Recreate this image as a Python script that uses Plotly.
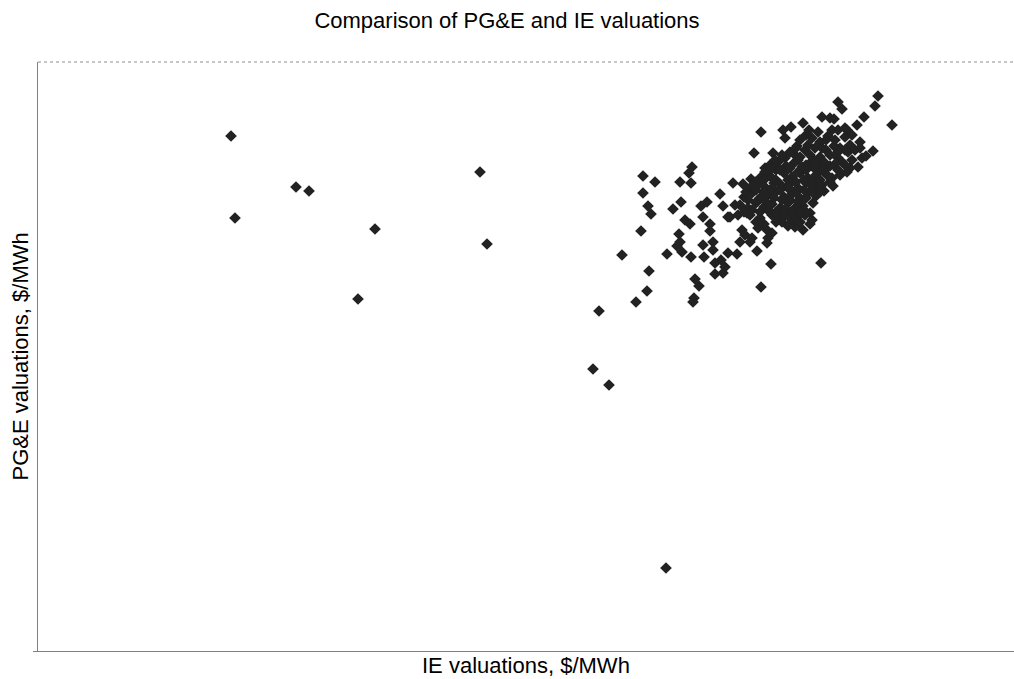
import plotly.graph_objects as go

# IE valuation (x) and PG&E valuation (y) readings, arbitrary $/MWh-like units (no tick labels in original)
ie_outliers = [231, 235, 296, 309, 375, 358, 480, 487, 666]
pge_outliers = [543, 461, 492, 488, 450, 380, 507, 435, 111]

ie_left = [599, 636, 593, 609, 622, 643, 655, 643, 648, 651, 641, 649, 647,
           680, 691, 689, 692, 681, 673, 685, 690, 679, 680, 677, 682, 667, 691, 695, 699, 694, 693]
pge_left = [368, 377, 310, 294, 424, 503, 497, 486, 473, 465, 448, 408, 388,
            497, 496, 506, 512, 477, 470, 459, 455, 445, 437, 433, 427, 425, 422, 400, 393, 381, 377]

ie_mid = [701, 707, 703, 710, 710, 703, 713, 704, 715, 721, 728, 737, 757, 771, 821, 715, 725, 723, 761,
          728, 720, 723, 735, 733, 743, 751, 713,
          730, 738, 747, 742, 745, 752, 740, 750, 758, 767, 768, 767, 772, 772, 780, 782, 792, 795, 790,
          833, 824, 815, 813, 803, 810, 810, 803]
pge_mid = [473, 477, 462, 455, 448, 434, 437, 422, 416, 419, 426, 425, 428, 415, 416, 405, 412, 406, 392,
           462, 485, 473, 474, 496, 495, 500, 429,
           462, 464, 466, 449, 444, 441, 437, 437, 451, 449, 441, 436, 446, 464, 462, 457, 459, 452, 467,
           493, 488, 496, 476, 473, 466, 455, 449]

ie_upper = [761, 783, 791, 785, 797, 773, 754, 765, 764, 776, 803, 809, 822, 830, 834, 838, 842, 878, 875,
            864, 892, 857, 847, 838, 860, 873, 858]
pge_upper = [547, 549, 552, 541, 533, 526, 526, 511, 503, 509, 556, 549, 562, 561, 560, 577, 570, 583, 573,
             562, 554, 554, 549, 549, 537, 528, 512]

ie_core = [800, 812, 820, 828, 835, 845, 850, 840, 826, 815, 805, 795,
           785, 790, 800, 810, 820, 830, 838, 848, 855, 862,
           770, 778, 786, 794, 802, 810, 818, 826, 834, 842, 850,
           760, 768, 776, 784, 792, 800, 808, 816, 824, 832, 840, 847,
           750, 758, 766, 774, 782, 790, 798, 806, 814, 822, 830,
           744, 752, 760, 768, 776, 784, 792, 800, 808, 816,
           740, 748, 756, 764, 772, 780, 788, 796, 804,
           750, 760, 770, 785, 795, 805, 812]
pge_core = [539, 541, 537, 543, 539, 542, 534, 531, 529, 531, 529, 524,
            521, 527, 522, 524, 522, 524, 521, 527, 529, 521,
            514, 517, 513, 516, 512, 516, 514, 511, 514, 517, 511,
            501, 504, 499, 506, 502, 506, 501, 504, 507, 501, 504, 507,
            491, 494, 491, 496, 492, 495, 491, 496, 491, 494, 497,
            482, 486, 481, 484, 487, 482, 485, 481, 486, 483,
            474, 471, 476, 472, 475, 471, 476, 472, 469,
            464, 461, 467, 463, 460, 464, 459]

ie_core2 = [806, 818, 832, 845, 826, 852,
            796, 808, 822, 834, 845, 860,
            775, 782, 798, 806, 814, 824, 838, 852, 866,
            765, 772, 780, 790, 798, 806, 814, 822, 830, 838, 845,
            755, 764, 772, 780, 788, 796, 804, 812, 820, 828,
            746, 756, 764, 772, 780, 788, 796, 804, 812, 820,
            748, 758, 766, 774, 782, 790, 798, 806,
            744, 752, 760, 768, 776, 784, 792, 800,
            756, 764, 776, 788, 800]
pge_core2 = [544, 547, 549, 551, 539, 544,
             531, 534, 531, 533, 529, 531,
             519, 524, 519, 514, 519, 517, 527, 519, 523,
             507, 511, 509, 511, 507, 509, 511, 509, 513, 509, 514,
             497, 499, 501, 495, 499, 497, 499, 497, 499, 503,
             487, 489, 487, 491, 489, 491, 487, 489, 493, 487,
             479, 479, 477, 481, 479, 479, 477, 481,
             467, 469, 467, 469, 467, 469, 467, 465,
             457, 455, 457, 453, 457]

ie_vals = ie_outliers + ie_left + ie_mid + ie_upper + ie_core + ie_core2
pge_vals = pge_outliers + pge_left + pge_mid + pge_upper + pge_core + pge_core2

title_text = "Comparison of PG&E and IE valuations"
x_title = "IE valuations, $/MWh"
y_title = "PG&E valuations, $/MWh"

font_family = "Liberation Sans, Arial, sans-serif"

fig = go.Figure()
fig.add_trace(go.Scatter(
    x=ie_vals, y=pge_vals, mode="markers",
    marker=dict(symbol="diamond", size=9, color="#222222", line=dict(width=0)),
    hoverinfo="x+y", showlegend=False,
))

fig.update_layout(
    width=1014, height=679,
    margin=dict(l=38, r=0, t=62, b=28),
    paper_bgcolor="white", plot_bgcolor="white",
    font=dict(family=font_family, color="#000000"),
    title=dict(text=title_text, x=0.5, xref="container", xanchor="center",
               y=1 - 20 / 679, yref="container", yanchor="middle",
               font=dict(size=22, family=font_family, color="#000")),
    xaxis=dict(range=[38, 1014], showgrid=False, zeroline=False, showline=True,
               linecolor="#808080", linewidth=1, showticklabels=False, ticks="",
               fixedrange=True),
    yaxis=dict(range=[28, 617], showgrid=False, zeroline=False, showline=True,
               linecolor="#808080", linewidth=1, showticklabels=False,
               ticks="outside", tickvals=[28], ticklen=4, tickcolor="#808080",
               fixedrange=True),
    shapes=[dict(type="line", xref="paper", yref="paper", x0=0, x1=1, y0=1, y1=1,
                 line=dict(color="#909090", width=1, dash="dot"))],
    annotations=[
        dict(text=x_title, xref="paper", yref="paper", x=0.5, y=0, yshift=-14,
             xanchor="center", yanchor="middle", showarrow=False,
             font=dict(size=22, family=font_family, color="#000")),
        dict(text=y_title, xref="paper", yref="paper", x=0, y=0.5, xshift=-18,
             xanchor="center", yanchor="middle", textangle=-90, showarrow=False,
             font=dict(size=22, family=font_family, color="#000")),
    ],
)

fig.write_html(
    "out.html",
    config={"displayModeBar": False},
    post_script="document.body.style.margin='0px';document.body.style.overflow='hidden';",
)
